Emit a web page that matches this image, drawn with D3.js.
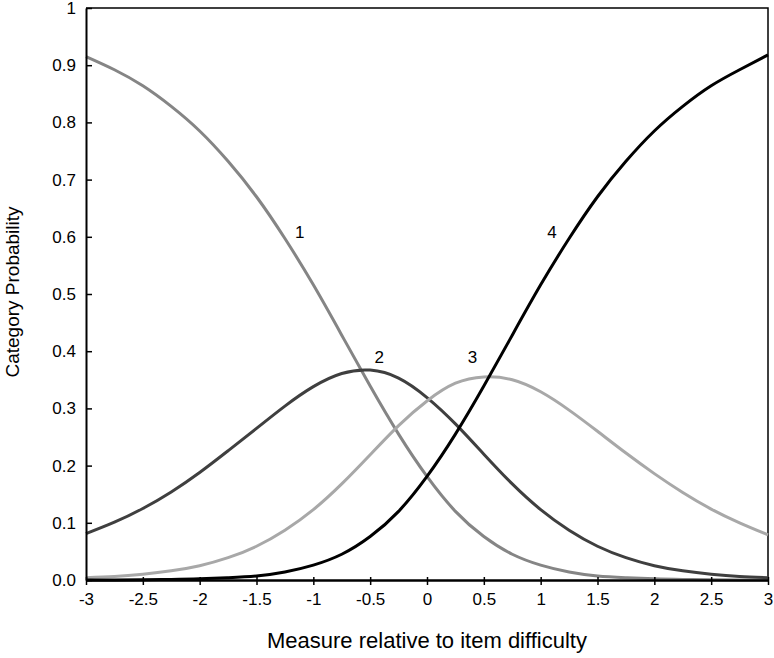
<!DOCTYPE html>
<html>
<head>
<meta charset="utf-8">
<script src="https://cdn.jsdelivr.net/npm/d3@7"></script>
<style>
  body { margin: 0; background: #fff; }
  text { font-family: Arial, "Liberation Sans", sans-serif; fill: #000; }
</style>
</head>
<body>
<svg id="chart" width="774" height="658"></svg>
<script>
// measure values (x axis)
const measures = [-3, -2.75, -2.5, -2.25, -2, -1.75, -1.5, -1.25, -1, -0.75, -0.5, -0.25, 0,
  0.25, 0.5, 0.75, 1, 1.25, 1.5, 1.75, 2, 2.25, 2.5, 2.75, 3]

// category probability curves
const cat1 = [0.915, 0.892, 0.864, 0.828, 0.785, 0.732, 0.670, 0.597, 0.516, 0.428, 0.339, 0.255, 0.181,
  0.120, 0.076, 0.045, 0.026, 0.014, 0.007, 0.004, 0.002, 0.001, 0.0005, 0.0002, 0.0001]
const cat2 = [0.081, 0.101, 0.125, 0.154, 0.188, 0.226, 0.265, 0.304, 0.338, 0.361, 0.367, 0.353, 0.319,
  0.273, 0.220, 0.168, 0.123, 0.087, 0.059, 0.039, 0.025, 0.016, 0.010, 0.006, 0.004]
const cat3 = [0.004, 0.006, 0.010, 0.016, 0.025, 0.039, 0.059, 0.087, 0.123, 0.168, 0.219, 0.270, 0.313,
  0.344, 0.355, 0.350, 0.329, 0.297, 0.260, 0.222, 0.186, 0.153, 0.124, 0.100, 0.079]
const cat4 = [0.0001, 0.0002, 0.0005, 0.001, 0.002, 0.004, 0.007, 0.014, 0.026, 0.045, 0.076, 0.120, 0.181,
  0.255, 0.339, 0.428, 0.516, 0.597, 0.670, 0.732, 0.785, 0.828, 0.864, 0.892, 0.918]

const seriesNames = ['1', '2', '3', '4']
const seriesColors = ['#858585', '#3f3f3f', '#a8a8a8', '#000000']
// where each number label sits: [x, y] in data units
const labelPos = [[-1.12, 0.609], [-0.42, 0.39], [0.4, 0.39], [1.1, 0.609]]

const xTicks = [-3, -2.5, -2, -1.5, -1, -0.5, 0, 0.5, 1, 1.5, 2, 2.5, 3]
const yTicks = [0, 0.1, 0.2, 0.3, 0.4, 0.5, 0.6, 0.7, 0.8, 0.9, 1]

const margin = { top: 8, right: 6, bottom: 78, left: 86 },
  width = 774 - margin.left - margin.right,
  height = 658 - margin.top - margin.bottom

const svg = d3.select('#chart')
const g = svg.append('g')
  .attr('transform', 'translate(' + margin.left + ',' + margin.top + ')')

const x = d3.scaleLinear().domain([-3, 3]).range([0, width])
const y = d3.scaleLinear().domain([0, 1]).range([height, 0])

// frame (top + right)
g.append('path')
  .attr('d', 'M0,' + y(1) + 'H' + x(3) + 'V' + y(0))
  .attr('fill', 'none')
  .attr('stroke', '#000')
  .attr('stroke-width', 1.5)

const allSeries = [cat1, cat2, cat3, cat4]
const line = d3.line()
  .curve(d3.curveNatural)
  .x(d => x(d[0]))
  .y(d => y(d[1]))

allSeries.forEach((vals, i) => {
  g.append('path')
    .datum(measures.map((m, j) => [m, vals[j]]))
    .attr('fill', 'none')
    .attr('stroke', seriesColors[i])
    .attr('stroke-width', 3)
    .attr('d', line)
})

// axes
const xAxis = g.append('g')
  .attr('transform', 'translate(0,' + height + ')')
  .call(d3.axisBottom(x).tickValues(xTicks).tickSize(5).tickSizeOuter(0)
    .tickFormat(d => String(d)))
xAxis.select('.domain').attr('stroke-width', 2.5)
xAxis.selectAll('.tick line').attr('y1', -3).attr('stroke-width', 1.5)
xAxis.selectAll('.tick text').attr('font-size', 17).attr('dy', '1em')

const yAxis = g.append('g')
  .call(d3.axisLeft(y).tickValues(yTicks).tickSize(6).tickSizeOuter(0)
    .tickFormat(d => d === 0 ? '0.0' : d === 1 ? '1' : d3.format('.1f')(d)))
yAxis.select('.domain').attr('stroke-width', 2)
yAxis.selectAll('.tick line').attr('x2', 6).attr('stroke-width', 1.5)
yAxis.selectAll('.tick text').attr('font-size', 17).attr('x', -10)

// curve labels
seriesNames.forEach((name, i) => {
  g.append('text')
    .attr('x', x(labelPos[i][0]))
    .attr('y', y(labelPos[i][1]))
    .attr('text-anchor', 'middle')
    .attr('dy', '0.35em')
    .attr('font-size', 17)
    .text(name)
})

// axis titles
svg.append('text')
  .attr('x', 427)
  .attr('y', 648)
  .attr('text-anchor', 'middle')
  .attr('font-size', 22)
  .text('Measure relative to item difficulty')

svg.append('text')
  .attr('transform', 'translate(19,292) rotate(-90)')
  .attr('text-anchor', 'middle')
  .attr('font-size', 19)
  .text('Category Probability')
</script>
</body>
</html>
